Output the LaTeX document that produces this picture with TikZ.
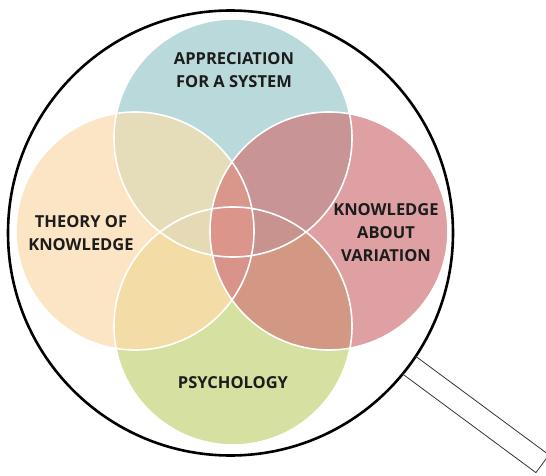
\documentclass[tikz,border=0pt]{standalone}
\usepackage{fontspec}
\setmainfont{Open Sans}
\definecolor{cT}{HTML}{B9D9DA}
\definecolor{cL}{HTML}{FCE5C4}
\definecolor{cR}{HTML}{DEA0A2}
\definecolor{cB}{HTML}{D6E0A0}
\definecolor{cTL}{HTML}{E5DDBA}
\definecolor{cTR}{HTML}{C99496}
\definecolor{cLB}{HTML}{F3DCA5}
\definecolor{cRB}{HTML}{D39884}
\definecolor{cTLR}{HTML}{D9968A}
\definecolor{cLRB}{HTML}{D8948A}
\definecolor{cTLB}{HTML}{E5DAB5}
\definecolor{cTRB}{HTML}{C8928E}
\definecolor{cAll}{HTML}{DB958A}
\definecolor{txt}{HTML}{1C1C1C}
\definecolor{handle}{HTML}{333333}
\tikzset{
  lbl/.style={align=center, inner sep=0pt, text=txt, font=\fontsize{16.5}{23}\selectfont\bfseries},
  rim/.style={draw=white, line width=1.6pt},
  lens/.style={draw=black, line width=2.6pt},
  grip/.style={draw=handle, line width=0.8pt, line join=miter},
}
\begin{document}
\begin{tikzpicture}[x=1pt,y=-1pt]
\useasboundingbox (0,0) rectangle (546,476);
\coordinate (C) at (230.5,233);
\coordinate (T) at (233,138);
\coordinate (L) at (135,231);
\coordinate (R) at (329,231);
\coordinate (B) at (233,326);
% single circles
\fill[cT] (T) circle[radius=119pt];
\fill[cL] (L) circle[radius=119pt];
\fill[cR] (R) circle[radius=119pt];
\fill[cB] (B) circle[radius=119pt];
% pairs
\begin{scope}\clip (T) circle[radius=119pt]; \fill[cTL] (L) circle[radius=119pt]; \end{scope}
\begin{scope}\clip (T) circle[radius=119pt]; \fill[cTR] (R) circle[radius=119pt]; \end{scope}
\begin{scope}\clip (B) circle[radius=119pt]; \fill[cLB] (L) circle[radius=119pt]; \end{scope}
\begin{scope}\clip (B) circle[radius=119pt]; \fill[cRB] (R) circle[radius=119pt]; \end{scope}
% triples
\begin{scope}\clip (L) circle[radius=119pt]; \clip (R) circle[radius=119pt]; \fill[cTLR] (T) circle[radius=119pt]; \end{scope}
\begin{scope}\clip (L) circle[radius=119pt]; \clip (R) circle[radius=119pt]; \fill[cLRB] (B) circle[radius=119pt]; \end{scope}
\begin{scope}\clip (T) circle[radius=119pt]; \clip (B) circle[radius=119pt]; \fill[cTLB] (L) circle[radius=119pt]; \end{scope}
\begin{scope}\clip (T) circle[radius=119pt]; \clip (B) circle[radius=119pt]; \fill[cTRB] (R) circle[radius=119pt]; \end{scope}
% all four
\begin{scope}\clip (T) circle[radius=119pt]; \clip (B) circle[radius=119pt]; \clip (L) circle[radius=119pt]; \fill[cAll] (R) circle[radius=119pt]; \end{scope}
% white rims
\path[rim] (T) circle[radius=119pt];
\path[rim] (L) circle[radius=119pt];
\path[rim] (R) circle[radius=119pt];
\path[rim] (B) circle[radius=119pt];
% magnifier
\path[lens] (C) circle[radius=222.5pt];
\coordinate (h1) at (415.3,356.0);
\coordinate (h2) at (549.0,454.9);
\coordinate (h3) at (535.9,472.6);
\coordinate (h4) at (402.2,373.7);
\path[grip] (h1) -- (h2) -- (h3) -- (h4);
% labels
\node[lbl] (app) at (234,70) {APPRECIATION\\FOR A SYSTEM};
\node[lbl] (tok) at (81,233) {THEORY OF\\KNOWLEDGE};
\node[lbl] (kav) at (386,233) {KNOWLEDGE\\ABOUT\\VARIATION};
\node[lbl] (psy) at (233,383) {PSYCHOLOGY};
\end{tikzpicture}
\end{document}
